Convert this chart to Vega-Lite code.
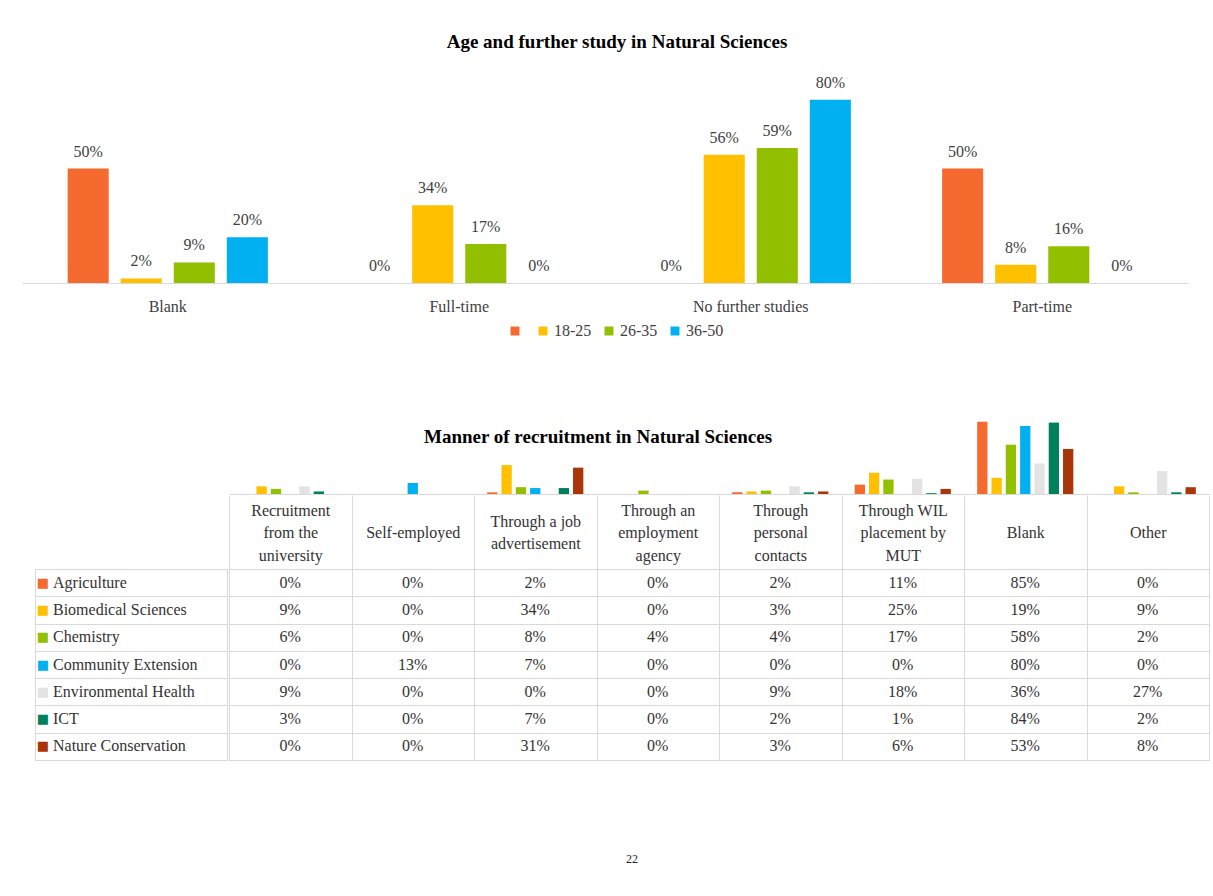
{
  "$schema": "https://vega.github.io/schema/vega-lite/v6.json",
  "padding": {"left": 22, "top": 33, "right": 0, "bottom": 0},
  "background": "white",
  "config": {
    "font": "Liberation Serif",
    "view": {"stroke": null},
    "axis": {"labelFont": "Liberation Serif", "titleFont": "Liberation Serif"},
    "legend": {"labelFont": "Liberation Serif", "titleFont": "Liberation Serif"},
    "title": {"font": "Liberation Serif"}
  },
  "datasets": {
    "age": [
      {"status": "Blank", "age": " ", "share": 0.50},
      {"status": "Blank", "age": "18-25", "share": 0.02},
      {"status": "Blank", "age": "26-35", "share": 0.09},
      {"status": "Blank", "age": "36-50", "share": 0.20},
      {"status": "Full-time", "age": " ", "share": 0.0},
      {"status": "Full-time", "age": "18-25", "share": 0.34},
      {"status": "Full-time", "age": "26-35", "share": 0.17},
      {"status": "Full-time", "age": "36-50", "share": 0.0},
      {"status": "No further studies", "age": " ", "share": 0.0},
      {"status": "No further studies", "age": "18-25", "share": 0.56},
      {"status": "No further studies", "age": "26-35", "share": 0.59},
      {"status": "No further studies", "age": "36-50", "share": 0.80},
      {"status": "Part-time", "age": " ", "share": 0.50},
      {"status": "Part-time", "age": "18-25", "share": 0.08},
      {"status": "Part-time", "age": "26-35", "share": 0.16},
      {"status": "Part-time", "age": "36-50", "share": 0.0}
    ],
    "fields": [
      {"field": "Agriculture"},
      {"field": "Biomedical Sciences"},
      {"field": "Chemistry"},
      {"field": "Community Extension"},
      {"field": "Environmental Health"},
      {"field": "ICT"},
      {"field": "Nature Conservation"}
    ],
    "recruit": [
      {"method": "Recruitment from the university", "field": "Agriculture", "pct": 0.00},
      {"method": "Recruitment from the university", "field": "Biomedical Sciences", "pct": 0.09},
      {"method": "Recruitment from the university", "field": "Chemistry", "pct": 0.06},
      {"method": "Recruitment from the university", "field": "Community Extension", "pct": 0.00},
      {"method": "Recruitment from the university", "field": "Environmental Health", "pct": 0.09},
      {"method": "Recruitment from the university", "field": "ICT", "pct": 0.03},
      {"method": "Recruitment from the university", "field": "Nature Conservation", "pct": 0.00},
      {"method": "Self-employed", "field": "Agriculture", "pct": 0.00},
      {"method": "Self-employed", "field": "Biomedical Sciences", "pct": 0.00},
      {"method": "Self-employed", "field": "Chemistry", "pct": 0.00},
      {"method": "Self-employed", "field": "Community Extension", "pct": 0.13},
      {"method": "Self-employed", "field": "Environmental Health", "pct": 0.00},
      {"method": "Self-employed", "field": "ICT", "pct": 0.00},
      {"method": "Self-employed", "field": "Nature Conservation", "pct": 0.00},
      {"method": "Through a job advertisement", "field": "Agriculture", "pct": 0.02},
      {"method": "Through a job advertisement", "field": "Biomedical Sciences", "pct": 0.34},
      {"method": "Through a job advertisement", "field": "Chemistry", "pct": 0.08},
      {"method": "Through a job advertisement", "field": "Community Extension", "pct": 0.07},
      {"method": "Through a job advertisement", "field": "Environmental Health", "pct": 0.00},
      {"method": "Through a job advertisement", "field": "ICT", "pct": 0.07},
      {"method": "Through a job advertisement", "field": "Nature Conservation", "pct": 0.31},
      {"method": "Through an employment agency", "field": "Agriculture", "pct": 0.00},
      {"method": "Through an employment agency", "field": "Biomedical Sciences", "pct": 0.00},
      {"method": "Through an employment agency", "field": "Chemistry", "pct": 0.04},
      {"method": "Through an employment agency", "field": "Community Extension", "pct": 0.00},
      {"method": "Through an employment agency", "field": "Environmental Health", "pct": 0.00},
      {"method": "Through an employment agency", "field": "ICT", "pct": 0.00},
      {"method": "Through an employment agency", "field": "Nature Conservation", "pct": 0.00},
      {"method": "Through personal contacts", "field": "Agriculture", "pct": 0.02},
      {"method": "Through personal contacts", "field": "Biomedical Sciences", "pct": 0.03},
      {"method": "Through personal contacts", "field": "Chemistry", "pct": 0.04},
      {"method": "Through personal contacts", "field": "Community Extension", "pct": 0.00},
      {"method": "Through personal contacts", "field": "Environmental Health", "pct": 0.09},
      {"method": "Through personal contacts", "field": "ICT", "pct": 0.02},
      {"method": "Through personal contacts", "field": "Nature Conservation", "pct": 0.03},
      {"method": "Through WIL placement by MUT", "field": "Agriculture", "pct": 0.11},
      {"method": "Through WIL placement by MUT", "field": "Biomedical Sciences", "pct": 0.25},
      {"method": "Through WIL placement by MUT", "field": "Chemistry", "pct": 0.17},
      {"method": "Through WIL placement by MUT", "field": "Community Extension", "pct": 0.00},
      {"method": "Through WIL placement by MUT", "field": "Environmental Health", "pct": 0.18},
      {"method": "Through WIL placement by MUT", "field": "ICT", "pct": 0.01},
      {"method": "Through WIL placement by MUT", "field": "Nature Conservation", "pct": 0.06},
      {"method": "Blank", "field": "Agriculture", "pct": 0.85},
      {"method": "Blank", "field": "Biomedical Sciences", "pct": 0.19},
      {"method": "Blank", "field": "Chemistry", "pct": 0.58},
      {"method": "Blank", "field": "Community Extension", "pct": 0.80},
      {"method": "Blank", "field": "Environmental Health", "pct": 0.36},
      {"method": "Blank", "field": "ICT", "pct": 0.84},
      {"method": "Blank", "field": "Nature Conservation", "pct": 0.53},
      {"method": "Other", "field": "Agriculture", "pct": 0.00},
      {"method": "Other", "field": "Biomedical Sciences", "pct": 0.09},
      {"method": "Other", "field": "Chemistry", "pct": 0.02},
      {"method": "Other", "field": "Community Extension", "pct": 0.00},
      {"method": "Other", "field": "Environmental Health", "pct": 0.27},
      {"method": "Other", "field": "ICT", "pct": 0.02},
      {"method": "Other", "field": "Nature Conservation", "pct": 0.08}
    ]
  },
  "title": {"text": "22", "orient": "bottom", "offset": 102, "fontSize": 12, "fontWeight": "normal", "anchor": "middle", "baseline": "alphabetic", "dx": 16, "color": "#222"},
  "columns": 1,
  "spacing": 70,
  "resolve": {"scale": {"color": "independent", "xOffset": "independent"}, "legend": {"color": "independent"}},
  "concat": [
    {
      "data": {"name": "age"},
      "width": 1166,
      "height": 229,
      "title": {"text": "Age and further study in Natural Sciences", "fontSize": 19, "fontWeight": "bold", "baseline": "alphabetic", "offset": -13, "dx": 12, "color": "black", "anchor": "middle"},
      "encoding": {
        "x": {"field": "status", "type": "nominal", "sort": ["Blank", "Full-time", "No further studies", "Part-time"], "scale": {"paddingInner": 0, "paddingOuter": 0}, "axis": {"title": null, "labelAngle": 0, "ticks": false, "domainColor": "#d9d9d9", "labelFontSize": 16, "labelColor": "#404040", "labelPadding": 15}},
        "xOffset": {"field": "age", "type": "nominal", "sort": [" ", "18-25", "26-35", "36-50"], "scale": {"paddingInner": 0.226, "paddingOuter": 0.86}},
        "y": {"field": "share", "type": "quantitative", "scale": {"domain": [0, 1]}, "axis": null}
      },
      "layer": [
        {
          "mark": {"type": "bar"},
          "encoding": {
            "color": {"field": "age", "type": "nominal", "sort": [" ", "18-25", "26-35", "36-50"],
              "scale": {"domain": [" ", "18-25", "26-35", "36-50"], "range": ["#F46A2F", "#FFC000", "#92C000", "#00B0F0"]},
              "legend": {"title": null, "orient": "none", "legendX": 485, "legendY": 269, "direction": "horizontal", "symbolType": "square", "symbolSize": 80, "symbolStrokeWidth": 0, "labelFontSize": 16, "labelColor": "#404040", "columnPadding": 9, "labelOffset": 3}}
          }
        },
        {
          "mark": {"type": "text", "baseline": "alphabetic", "dy": -12, "fontSize": 16, "color": "#404040"},
          "encoding": {"text": {"field": "share", "type": "quantitative", "format": ".0%"}}
        }
      ]
    },
    {
      "title": {"text": "Manner of recruitment in Natural Sciences", "fontSize": 19, "fontWeight": "bold", "baseline": "alphabetic", "offset": -53, "dx": -18, "color": "black", "anchor": "middle"},
      "columns": 3,
      "spacing": 0,
      "concat": [
        {
          "data": {"values": []},
          "width": 12,
          "height": 85,
          "mark": "point"
        },
        {
          "data": {"values": []},
          "width": 192,
          "height": 85,
          "mark": "point"
        },
        {
          "data": {"name": "recruit"},
          "width": 980,
          "height": 85,
          "mark": {"type": "bar"},
          "encoding": {
            "x": {"field": "method", "type": "nominal", "sort": ["Recruitment from the university", "Self-employed", "Through a job advertisement", "Through an employment agency", "Through personal contacts", "Through WIL placement by MUT", "Blank", "Other"], "scale": {"paddingInner": 0, "paddingOuter": 0}, "axis": {"title": null, "labels": false, "ticks": false, "domainColor": "#d9d9d9"}},
            "xOffset": {"field": "field", "type": "nominal", "sort": ["Agriculture", "Biomedical Sciences", "Chemistry", "Community Extension", "Environmental Health", "ICT", "Nature Conservation"], "scale": {"paddingInner": 0.28, "paddingOuter": 0.92}},
            "y": {"field": "pct", "type": "quantitative", "scale": {"domain": [0, 1]}, "axis": null},
            "color": {"field": "field", "type": "nominal", "scale": {"domain": ["Agriculture", "Biomedical Sciences", "Chemistry", "Community Extension", "Environmental Health", "ICT", "Nature Conservation"], "range": ["#F46A2F", "#FFC000", "#92C000", "#00B0F0", "#E3E3E3", "#00805C", "#AA3509"]}, "legend": null}
          }
        },
        {
          "data": {"values": []},
          "width": 12,
          "height": 191,
          "mark": "point"
        },
        {
          "data": {"name": "fields"},
          "width": 192,
          "height": 191,
          "view": {"stroke": "#d9d9d9"},
          "encoding": {
            "y": {"field": "field", "type": "nominal", "sort": ["Agriculture", "Biomedical Sciences", "Chemistry", "Community Extension", "Environmental Health", "ICT", "Nature Conservation"], "scale": {"paddingInner": 0, "paddingOuter": 0}, "axis": {"title": null, "labels": false, "ticks": false, "domain": false, "grid": true, "tickBand": "extent", "gridColor": "#d9d9d9"}}
          },
          "layer": [
            {
              "mark": {"type": "text", "text": "■", "font": "DejaVu Sans", "fontSize": 13, "align": "center", "baseline": "middle", "dx": -88},
              "encoding": {"color": {"field": "field", "type": "nominal", "scale": {"domain": ["Agriculture", "Biomedical Sciences", "Chemistry", "Community Extension", "Environmental Health", "ICT", "Nature Conservation"], "range": ["#F46A2F", "#FFC000", "#92C000", "#00B0F0", "#E3E3E3", "#00805C", "#AA3509"]}, "legend": null}}
            },
            {
              "mark": {"type": "text", "align": "left", "baseline": "middle", "dx": -78, "fontSize": 16, "color": "#333333"},
              "encoding": {"text": {"field": "field", "type": "nominal"}}
            }
          ]
        },
        {
          "data": {"name": "recruit"},
          "width": 980,
          "height": 191,
          "view": {"stroke": "#d9d9d9"},
          "mark": {"type": "text", "fontSize": 16, "color": "#333333", "baseline": "middle"},
          "encoding": {
            "x": {"field": "method", "type": "nominal", "sort": ["Recruitment from the university", "Self-employed", "Through a job advertisement", "Through an employment agency", "Through personal contacts", "Through WIL placement by MUT", "Blank", "Other"], "scale": {"paddingInner": 0, "paddingOuter": 0},
              "axis": {"orient": "top", "title": null, "labelAngle": 0, "tickBand": "extent", "tickSize": 74, "tickColor": "#d9d9d9", "domainColor": "#d9d9d9", "grid": true, "gridColor": "#d9d9d9", "labelPadding": -15, "labelBaseline": "middle", "labelFontSize": 16, "labelColor": "#333333", "labelLineHeight": 11.25, "labelLimit": 0,
                "labelExpr": "datum.value == 'Recruitment from the university' ? ['Recruitment', '\u200b', 'from the', '\u200b', 'university'] : datum.value == 'Through a job advertisement' ? ['\u200b', 'Through a job', '\u200b', 'advertisement'] : datum.value == 'Through an employment agency' ? ['Through an', '\u200b', 'employment', '\u200b', 'agency'] : datum.value == 'Through personal contacts' ? ['Through', '\u200b', 'personal', '\u200b', 'contacts'] : datum.value == 'Through WIL placement by MUT' ? ['Through WIL', '\u200b', 'placement by', '\u200b', 'MUT'] : ['\u200b', '\u200b', datum.label]"}},
            "y": {"field": "field", "type": "nominal", "sort": ["Agriculture", "Biomedical Sciences", "Chemistry", "Community Extension", "Environmental Health", "ICT", "Nature Conservation"], "scale": {"paddingInner": 0, "paddingOuter": 0}, "axis": {"title": null, "labels": false, "ticks": false, "domain": false, "grid": true, "tickBand": "extent", "gridColor": "#d9d9d9"}},
            "text": {"field": "pct", "type": "quantitative", "format": ".0%"}
          }
        }
      ]
    }
  ]
}
